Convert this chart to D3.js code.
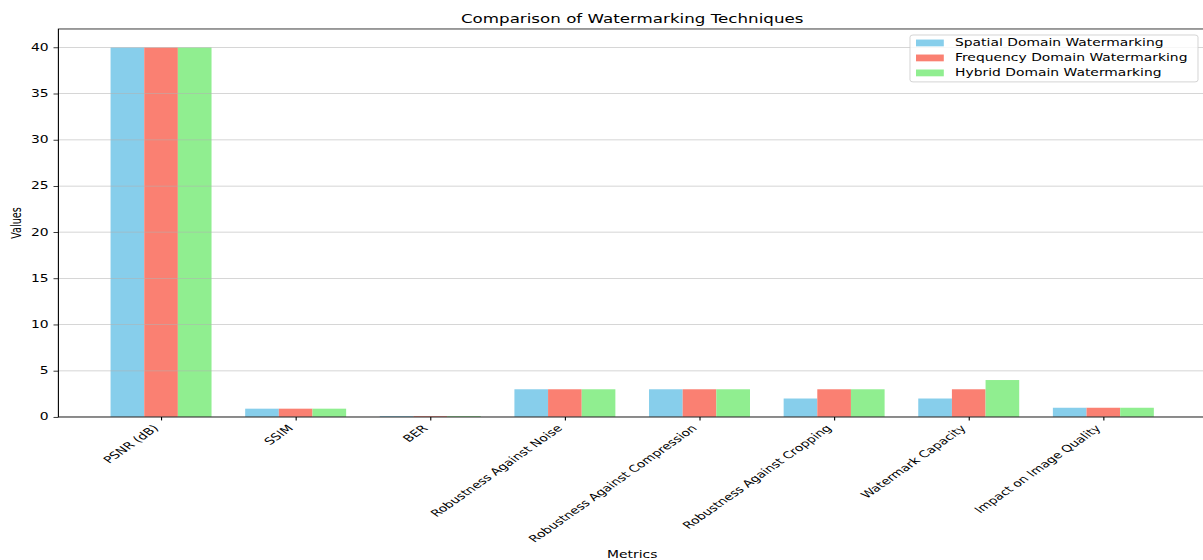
<!DOCTYPE html>
<html>
<head>
<meta charset="utf-8">
<script src="https://cdn.jsdelivr.net/npm/d3@7"></script>
<style>
  body { margin: 0; background: #fff; }
  svg text { font-family: "DejaVu Sans", sans-serif; fill: #000; }
</style>
</head>
<body>
<div id="chart"></div>
<script>
// data
var metrics = ["PSNR (dB)", "SSIM", "BER", "Robustness Against Noise",
  "Robustness Against Compression", "Robustness Against Cropping",
  "Watermark Capacity", "Impact on Image Quality"];
var spatial   = [40, 0.9, 0.1, 3, 3, 2, 2, 1];
var frequency = [40, 0.9, 0.1, 3, 3, 3, 3, 1];
var hybrid    = [40, 0.9, 0.1, 3, 3, 3, 4, 1];
var seriesNames = ["Spatial Domain Watermarking", "Frequency Domain Watermarking", "Hybrid Domain Watermarking"];
var colors = ["#87CEEB", "#FA8072", "#90EE90"];
var yTicks = [0, 5, 10, 15, 20, 25, 30, 35, 40];

var series = [spatial, frequency, hybrid];
var barW = 0.25;

// the picture is a 1200x800 figure squeezed into 560 high, so draw in 800 and squash
var W = 1203, H = 800;
var margin = {left: 58.4, right: 1206, top: 41.4, bottom: 595.7};

var svg = d3.select("#chart").append("svg")
  .attr("width", 1203)
  .attr("height", 560)
  .attr("viewBox", "0 0 " + W + " " + H)
  .attr("preserveAspectRatio", "none")

var x = d3.scaleLinear()
  .domain([-0.7625, metrics.length - 1 + 0.7625])
  .range([margin.left, margin.right])

var y = d3.scaleLinear()
  .domain([0, 42])
  .range([margin.bottom, margin.top])

// bars
series.forEach(function(vals, j) {
  svg.selectAll("bar" + j)
    .data(vals)
    .enter()
    .append("rect")
      .attr("x", function(d, i) { return x(i + (j - 1) * barW - barW / 2); })
      .attr("width", x(barW) - x(0))
      .attr("y", function(d) { return y(d); })
      .attr("height", function(d) { return y(0) - y(d); })
      .style("fill", colors[j])
});

// grid over bars (matplotlib default order)
svg.selectAll("grid")
  .data(yTicks)
  .enter()
  .append("line")
    .attr("x1", margin.left).attr("x2", margin.right)
    .attr("y1", function(d) { return y(d); })
    .attr("y2", function(d) { return y(d); })
    .style("stroke", "#b0b0b0")
    .style("stroke-opacity", 0.7)
    .style("stroke-width", 1.1)

// y axis
var yAxis = svg.append("g")
  .attr("transform", "translate(" + margin.left + ",0)")
  .call(d3.axisLeft(y).tickValues(yTicks).tickSize(4.9).tickPadding(4.9))
yAxis.select(".domain").remove()
yAxis.selectAll("line").style("stroke", "#000").style("stroke-width", 1.1)
yAxis.selectAll("text").style("font-size", "13.9px")

// x axis
var xAxis = svg.append("g")
  .attr("transform", "translate(0," + margin.bottom + ")")
  .call(d3.axisBottom(x).tickValues(d3.range(metrics.length)).tickSize(4.9).tickFormat(function(i) { return metrics[i]; }))
xAxis.select(".domain").remove()
xAxis.selectAll("line").style("stroke", "#000").style("stroke-width", 1.1)
xAxis.selectAll("text")
  .attr("x", null).attr("y", null).attr("dy", null)
  .style("font-size", "13.9px")
  .attr("text-anchor", "end")
  .attr("transform", "translate(-2.3,17) rotate(-45)")

// spines
svg.append("rect")
  .attr("x", margin.left).attr("y", margin.top)
  .attr("width", margin.right - margin.left)
  .attr("height", margin.bottom - margin.top)
  .style("fill", "none")
  .style("stroke", "#000")
  .style("stroke-width", 1.1)

// title and labels
svg.append("text")
  .attr("x", (margin.left + margin.right) / 2)
  .attr("y", 33)
  .attr("text-anchor", "middle")
  .style("font-size", "16.7px")
  .text("Comparison of Watermarking Techniques")

svg.append("text")
  .attr("transform", "translate(21," + (margin.top + margin.bottom) / 2 + ") rotate(-90)")
  .attr("text-anchor", "middle")
  .style("font-size", "13.9px")
  .text("Values")

svg.append("text")
  .attr("x", (margin.left + margin.right) / 2)
  .attr("y", 797)
  .attr("text-anchor", "middle")
  .style("font-size", "13.9px")
  .text("Metrics")

// legend
var legend = svg.append("g")

legend.append("rect")
  .attr("x", 910).attr("y", 50)
  .attr("width", 288).attr("height", 67)
  .attr("rx", 3)
  .style("fill", "#fff").style("fill-opacity", 0.8)
  .style("stroke", "#ccc")

legend.selectAll("mydots")
  .data(colors)
  .enter()
  .append("rect")
    .attr("x", 916)
    .attr("y", function(d, i) { return 61.4 + i * 21.4 - 4.9; })
    .attr("width", 27.8)
    .attr("height", 9.7)
    .style("fill", function(d) { return d; })

legend.selectAll("mylabels")
  .data(seriesNames)
  .enter()
  .append("text")
    .attr("x", 955)
    .attr("y", function(d, i) { return 61.4 + i * 21.4; })
    .attr("dy", "0.36em")
    .style("font-size", "13.9px")
    .text(function(d) { return d; })
</script>
</body>
</html>
